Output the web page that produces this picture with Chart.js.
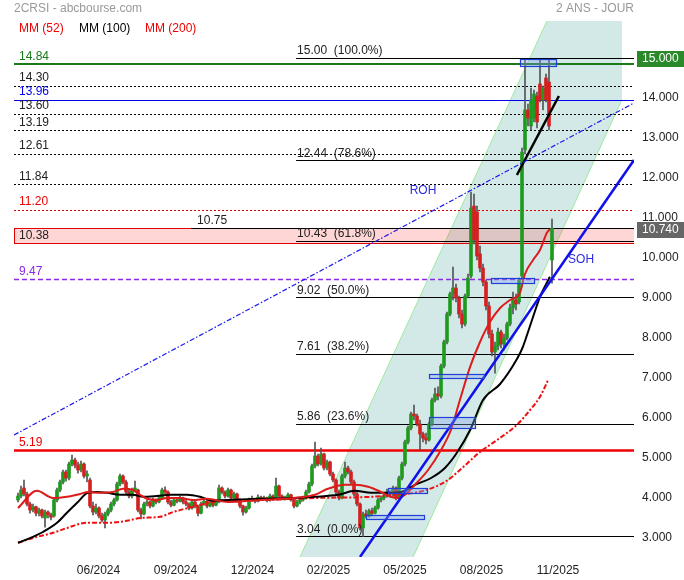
<!DOCTYPE html>
<html lang="fr">
<head>
  <meta charset="UTF-8" />
  <title>2CRSI - 2 ans</title>
  <script src="https://cdn.jsdelivr.net/npm/chart.js"></script>
  <style>
    html, body { margin: 0; padding: 0; background: #fff; }
    #wrap { width: 684px; height: 580px; }
  </style>
</head>
<body>
  <div id="wrap"><canvas id="chart" width="684" height="580"></canvas></div>
  <script>
    // daily candles (index = position on the time axis)
    const opens = [
      3.95,4.05,4.25,4.10,3.85,3.70,3.78,3.62,3.70,3.50,
      3.65,3.58,3.55,3.95,4.20,4.40,4.65,4.50,4.85,4.95,
      4.82,4.70,4.85,4.55,4.45,3.80,3.65,3.75,3.55,3.45,
      3.60,3.70,3.85,3.95,4.35,4.55,4.40,4.15,4.05,4.20,
      4.20,3.70,3.60,3.85,3.90,3.80,3.95,3.90,4.00,4.20,
      4.15,3.90,3.82,3.95,3.92,4.00,3.90,3.85,3.75,3.90,
      3.80,3.62,3.85,3.92,3.80,3.88,3.82,3.90,4.25,4.15,
      4.05,4.20,4.00,4.10,3.95,3.80,3.65,3.75,3.95,3.98,
      3.92,4.02,3.98,4.00,3.95,4.05,3.98,4.30,4.05,3.98,
      4.02,4.08,3.95,3.80,3.90,3.95,4.00,4.15,4.35,4.80,
      5.05,4.85,5.10,4.75,4.90,4.60,4.45,4.15,4.00,4.55,
      4.75,4.65,4.40,4.10,3.85,3.25,3.60,3.55,3.68,3.62,
      3.75,3.95,4.00,4.05,4.15,4.10,4.25,4.00,4.50,4.85,
      5.40,5.75,6.10,6.05,5.85,5.60,5.50,5.45,5.85,6.45,
      6.60,6.55,7.30,7.90,8.60,9.10,9.25,9.00,8.60,8.35,
      9.05,9.55,11.30,11.15,10.10,9.75,9.40,8.80,8.10,7.65,
      7.80,8.15,7.85,8.00,8.35,8.75,8.95,8.90,9.55,12.70,
      13.70,13.30,13.50,14.05,14.35,13.95,14.50,14.40,9.95
    ];
    const highs = [
      4.12,4.30,4.45,4.15,3.90,3.85,3.80,3.75,3.72,3.70,
      3.68,3.62,4.00,4.25,4.45,4.70,4.70,4.90,5.07,5.00,
      4.90,4.92,4.88,4.68,4.50,3.90,3.85,3.78,3.62,3.65,
      3.75,3.90,4.00,4.40,4.60,4.58,4.45,4.20,4.25,4.42,
      4.22,3.75,3.90,3.95,3.92,4.00,3.98,4.05,4.25,4.28,
      4.18,3.95,4.00,3.98,4.05,4.02,3.95,3.88,3.95,3.92,
      3.82,3.90,3.98,3.95,3.92,3.90,3.95,4.32,4.28,4.18,
      4.25,4.22,4.15,4.12,3.98,3.82,3.80,4.00,4.05,4.00,
      4.08,4.05,4.05,4.02,4.10,4.08,4.50,4.32,4.08,4.05,
      4.12,4.10,3.98,3.95,3.98,4.05,4.20,4.40,4.85,5.40,
      5.10,5.25,5.12,4.95,4.92,4.65,4.48,4.20,4.60,4.90,
      4.80,4.70,4.45,4.15,3.88,3.65,3.70,3.72,3.75,3.80,
      4.00,4.05,4.10,4.22,4.18,4.30,4.28,4.55,4.90,5.45,
      5.80,6.15,6.32,6.10,5.95,5.65,5.62,5.90,6.50,6.75,
      6.78,7.35,7.95,8.65,9.15,9.77,9.35,9.05,8.70,9.10,
      9.60,11.65,11.60,11.30,10.30,9.85,9.45,8.90,8.20,7.90,
      8.25,8.20,8.10,8.40,8.85,9.15,9.10,9.50,12.75,14.95,
      13.85,14.25,14.20,14.15,14.95,14.30,14.60,14.95,10.97
    ];
    const lows = [
      3.90,4.00,4.05,3.80,3.62,3.65,3.55,3.55,3.50,3.27,
      3.50,3.45,3.52,3.90,4.15,4.35,4.42,4.45,4.80,4.75,
      4.62,4.65,4.50,4.40,3.75,3.58,3.60,3.50,3.40,3.25,
      3.55,3.65,3.80,3.92,4.30,4.35,4.10,4.00,4.00,4.15,
      3.65,3.48,3.58,3.80,3.75,3.78,3.85,3.88,3.98,4.10,
      3.85,3.78,3.80,3.88,3.90,3.85,3.80,3.70,3.72,3.75,
      3.55,3.60,3.82,3.75,3.78,3.78,3.80,3.88,4.10,4.00,
      4.02,3.95,3.98,3.90,3.75,3.57,3.62,3.72,3.92,3.88,
      3.90,3.95,3.95,3.90,3.92,3.95,3.95,4.00,3.95,3.95,
      4.00,3.92,3.75,3.78,3.85,3.92,3.98,4.12,4.30,4.75,
      4.80,4.82,4.70,4.70,4.55,4.40,4.10,3.95,3.98,4.50,
      4.60,4.35,4.05,3.80,3.20,3.04,3.50,3.52,3.55,3.60,
      3.72,3.90,3.95,4.02,4.02,4.05,3.95,3.98,4.45,4.80,
      5.35,5.70,5.95,5.80,5.20,5.40,5.35,5.42,5.80,6.40,
      6.45,6.50,7.25,7.85,8.55,8.95,8.90,8.50,8.25,8.30,
      9.00,9.50,10.35,9.95,9.65,9.30,8.70,8.00,7.55,7.12,
      7.70,7.75,7.70,7.95,8.30,8.60,8.70,8.85,9.50,12.60,
      13.30,13.20,13.40,13.25,13.90,13.70,13.90,13.20,9.37
    ];
    const closes = [
      4.05,4.20,4.10,3.85,3.70,3.78,3.62,3.70,3.55,3.65,
      3.58,3.52,3.95,4.20,4.40,4.65,4.50,4.85,4.95,4.82,
      4.70,4.85,4.55,4.60,3.80,3.65,3.75,3.55,3.45,3.60,
      3.70,3.85,3.95,4.35,4.55,4.40,4.15,4.05,4.20,4.25,
      3.70,3.60,3.85,3.90,3.80,3.95,3.90,4.00,4.20,4.15,
      3.90,3.82,3.95,3.92,4.00,3.90,3.85,3.75,3.90,3.80,
      3.62,3.85,3.92,3.80,3.88,3.82,3.90,4.25,4.15,4.05,
      4.20,4.00,4.10,3.95,3.80,3.65,3.75,3.95,3.98,3.92,
      4.02,3.98,4.00,3.95,4.05,3.98,4.30,4.05,3.98,4.02,
      4.08,3.95,3.80,3.90,3.95,4.00,4.15,4.35,4.80,5.05,
      4.85,5.10,4.75,4.90,4.60,4.45,4.15,4.00,4.55,4.75,
      4.65,4.40,4.10,3.85,3.25,3.60,3.55,3.68,3.62,3.75,
      3.95,4.00,4.05,4.15,4.10,4.25,4.00,4.50,4.85,5.40,
      5.75,6.10,6.05,5.85,5.60,5.50,5.45,5.85,6.45,6.60,
      6.55,7.30,7.90,8.60,9.10,9.25,9.00,8.60,8.35,9.05,
      9.50,11.25,10.45,10.05,9.75,9.40,8.80,8.10,7.65,7.80,
      8.15,7.85,8.00,8.35,8.75,8.95,8.85,9.45,12.65,13.70,
      13.50,13.95,14.10,13.40,13.95,14.25,13.95,13.30,10.74
    ];

    // moving averages [index, value]
    const mm52 = [[0,3.75],[6.3,4.18],[11.7,4.0],[16.3,4.03],[20.7,4.1],[23.3,4.15],[27.3,4.13],[31.7,4.15],[35,4.23],[38.3,4.2],[40.7,4.08],[43,3.98],[46.3,3.95],[49.7,4.0],[54,4.0],[58.3,3.95],[63,3.98],[70,3.9],[81,3.95],[92,4.0],[99,4.08],[103.3,4.23],[109,4.33],[112.3,4.33],[116.7,4.28],[121,4.15],[124.3,4.03],[126.7,4.0],[129,4.08],[132.3,4.33],[136.7,4.7],[141,5.2],[144.3,5.7],[147.3,6.45],[150.7,7.28],[154,7.9],[157.3,8.4],[160.7,8.75],[164,8.95],[167.3,9.13],[169,9.6],[171.7,9.95],[174,10.2],[176.3,10.63],[177.3,10.72]];
    const mm100 = [[0,2.88],[5,3.03],[8.3,3.15],[13,3.38],[16.3,3.63],[19.7,3.88],[23.3,4.13],[26.3,4.15],[29.7,4.13],[34,4.08],[38.3,4.08],[41.7,4.03],[46.3,4.05],[50.7,4.08],[56.3,4.08],[60.7,4.03],[65,3.93],[70,3.95],[81,3.98],[92.3,4.0],[99,4.03],[106.7,4.08],[112.3,4.18],[117.7,4.13],[123.3,4.13],[127.7,4.15],[132.3,4.33],[137.7,4.5],[142.3,4.75],[146.3,5.13],[150.7,5.7],[155,6.45],[160.7,6.85],[166.5,7.5],[168.3,7.78],[169.7,8.08],[171.7,8.53],[174,9.03],[177.3,9.53]];
    const mm200 = [[0,2.88],[5,3.0],[11.7,3.13],[16.3,3.25],[23,3.38],[29.7,3.38],[36.3,3.43],[40.7,3.5],[47.3,3.53],[51.7,3.65],[58.3,3.78],[65,3.9],[70,3.95],[81,3.95],[92.3,3.98],[99,4.0],[117.7,4.03],[125.7,4.08],[132.3,4.13],[139,4.28],[143.3,4.45],[147.3,4.7],[154,5.15],[159.7,5.45],[166.3,5.83],[170.7,6.2],[174,6.53],[176.7,6.95]];

    // horizontal levels
    const levelValues = [14.84, 14.30, 13.96, 13.60, 13.19, 12.61, 11.84, 11.20, 9.47, 5.19];
    const zoneLow = 10.38, zoneHigh = 10.75;
    const fibValues = [15.00, 12.44, 10.43, 9.02, 7.61, 5.86, 3.04];
    const fibPct = ['100.0%', '78.6%', '61.8%', '50.0%', '38.2%', '23.6%', '0.0%'];
    const fibStart = 92.7;
    const zoneLineStart = 57.7;

    // drawn objects [index, value]
    const channelLeft = [[94, 2.525], [176.3, 15.925]];
    const channelRight = [[131.7, 2.525], [213.3, 15.925]];
    const channelEnd = 201.3;
    const sohLine = [[114, 2.525], [205.33, 12.45]];
    const rohLine = [[-1.33, 5.575], [205.33, 13.875]];
    const shortLine = [[166.3, 12.075], [180.3, 14.05]];
    const boxes = [[167.3, 179.3, 14.80, 14.975], [157.7, 172, 9.375, 9.5], [137, 155.3, 7.0, 7.1],
                   [137, 152.3, 5.75, 6.025], [123.3, 136.3, 4.125, 4.25], [116, 135.3, 3.475, 3.575]];

    const yTicks = [3, 4, 5, 6, 7, 8, 9, 10, 11, 12, 13, 14];
    const dateTicks = [26.83, 52.5, 78.17, 103.5, 129, 154.5, 180];
    const dateLabels = ['06/2024', '09/2024', '12/2024', '02/2025', '05/2025', '08/2025', '11/2025'];
    const lastPrice = 10.74;

    const FONT = '"Liberation Sans", Arial, sans-serif';
    Chart.defaults.font.family = FONT;
    Chart.defaults.font.size = 12;

    const levelStyles = [
      { color: '#1a7a1a', width: 2, dash: [], text: '#1a7a1a' },
      { color: '#000', width: 1, dash: [2, 2], text: '#222' },
      { color: '#0000ee', width: 1, dash: [], text: '#0000ee' },
      { color: '#000', width: 1, dash: [2, 2], text: '#222' },
      { color: '#000', width: 1, dash: [2, 2], text: '#222' },
      { color: '#000', width: 1, dash: [2, 2], text: '#222' },
      { color: '#000', width: 1, dash: [2, 2], text: '#222' },
      { color: '#dd0000', width: 1, dash: [2, 2], text: '#ee0000' },
      { color: '#8a2be2', width: 1.5, dash: [5, 3], text: '#8a2be2' },
      { color: '#ee0000', width: 2.5, dash: [], text: '#ee0000' }
    ];

    const pts = arr => arr.map(p => ({ x: p[0], y: p[1] }));

    const overlay = {
      id: 'overlay',
      beforeDatasetsDraw(chart) {
        const { ctx, chartArea: a, scales: { x, y } } = chart;
        const px = v => x.getPixelForValue(v), py = v => y.getPixelForValue(v);
        ctx.save();
        ctx.beginPath();
        ctx.rect(a.left, a.top, a.right - a.left, a.bottom - a.top);
        ctx.clip();

        // channel
        ctx.save();
        ctx.beginPath();
        ctx.rect(a.left, a.top, px(channelEnd) - a.left, a.bottom - a.top);
        ctx.clip();
        ctx.beginPath();
        ctx.moveTo(px(channelLeft[0][0]), py(channelLeft[0][1]));
        ctx.lineTo(px(channelLeft[1][0]), py(channelLeft[1][1]));
        ctx.lineTo(px(channelRight[1][0]), py(channelRight[1][1]));
        ctx.lineTo(px(channelRight[0][0]), py(channelRight[0][1]));
        ctx.closePath();
        ctx.fillStyle = 'rgba(145,200,195,0.4)';
        ctx.fill();
        ctx.strokeStyle = '#9ee89e';
        ctx.lineWidth = 1;
        [channelLeft, channelRight].forEach(l => {
          ctx.beginPath();
          ctx.moveTo(px(l[0][0]), py(l[0][1]));
          ctx.lineTo(px(l[1][0]), py(l[1][1]));
          ctx.stroke();
        });
        ctx.restore();

        // pink zone
        const zt = Math.round(py(zoneHigh)) + 0.5, zb = Math.round(py(zoneLow)) + 0.5;
        ctx.fillStyle = 'rgba(255,70,70,0.22)';
        ctx.fillRect(a.left, zt, a.right - a.left, zb - zt);
        ctx.strokeStyle = '#e00000';
        ctx.lineWidth = 1;
        ctx.strokeRect(a.left + 0.5, zt, a.right - a.left, zb - zt);
        ctx.strokeStyle = '#000';
        ctx.beginPath();
        ctx.moveTo(px(zoneLineStart), zt);
        ctx.lineTo(a.right, zt);
        ctx.stroke();

        // levels
        levelValues.forEach((v, i) => {
          const s = levelStyles[i];
          const yy = Math.round(py(v)) + (s.width % 2 ? 0.5 : 0);
          ctx.strokeStyle = s.color;
          ctx.lineWidth = s.width;
          ctx.setLineDash(s.dash);
          ctx.beginPath();
          ctx.moveTo(a.left, yy);
          ctx.lineTo(a.right, yy);
          ctx.stroke();
        });
        ctx.setLineDash([]);

        // fibonacci
        ctx.strokeStyle = '#000';
        ctx.lineWidth = 1;
        fibValues.forEach(v => {
          const yy = Math.round(py(v)) + 0.5;
          ctx.beginPath();
          ctx.moveTo(px(fibStart), yy);
          ctx.lineTo(a.right, yy);
          ctx.stroke();
        });
        ctx.restore();
      },
      afterDatasetsDraw(chart) {
        const { ctx, chartArea: a, scales: { x, y } } = chart;
        const px = v => x.getPixelForValue(v), py = v => y.getPixelForValue(v);
        ctx.save();
        // boxes
        boxes.forEach(b => {
          const x1 = Math.round(px(b[0])) + 0.5, x2 = Math.round(px(b[1])) + 0.5;
          const y1 = Math.round(py(b[3])) + 0.5, y2 = Math.round(py(b[2])) + 0.5;
          ctx.fillStyle = 'rgba(130,160,240,0.35)';
          ctx.fillRect(x1, y1, x2 - x1, y2 - y1);
          ctx.strokeStyle = '#1f3fd8';
          ctx.lineWidth = 1.2;
          ctx.strokeRect(x1, y1, x2 - x1, y2 - y1);
        });

        ctx.font = '12px ' + FONT;
        ctx.textBaseline = 'bottom';
        ctx.textAlign = 'left';
        levelValues.forEach((v, i) => {
          ctx.fillStyle = levelStyles[i].text;
          ctx.fillText(v.toFixed(2), a.left + 5, py(v) - 2);
        });
        ctx.fillStyle = '#222';
        ctx.fillText(zoneLow.toFixed(2), a.left + 5, py(zoneLow) - 1);
        ctx.fillText(zoneHigh.toFixed(2), px(zoneLineStart) + 6, py(zoneHigh) - 1);
        fibValues.forEach((v, i) => {
          ctx.fillText(v.toFixed(2) + '  (' + fibPct[i] + ')', px(fibStart) + 1, py(v) - 1);
        });

        ctx.fillStyle = '#2a2ae0';
        ctx.textAlign = 'center';
        ctx.textBaseline = 'middle';
        ctx.fillText('ROH', px(135), py(11.675));
        ctx.fillText('SOH', px(187.7), py(9.95));

        // right side price boxes
        ctx.textAlign = 'left';
        ctx.fillStyle = '#2a8a2a';
        ctx.fillRect(a.right + 3, Math.round(py(15)) - 7, 47, 16);
        ctx.fillStyle = '#fff';
        ctx.fillText('15.000', a.right + 8, Math.round(py(15)) + 1);
        ctx.fillStyle = '#666';
        ctx.fillRect(a.right + 3, Math.round(py(lastPrice)) - 6, 47, 16);
        ctx.fillStyle = '#fff';
        ctx.fillText(lastPrice.toFixed(3), a.right + 8, Math.round(py(lastPrice)) + 2);

        // header
        ctx.fillStyle = '#999';
        ctx.fillText('2CRSI - abcbourse.com', 14, 9);
        ctx.textAlign = 'right';
        ctx.fillText('2 ANS - JOUR', a.right, 9);
        ctx.textAlign = 'left';
        ctx.fillStyle = '#ee0000';
        ctx.fillText('MM (52)', 19, 29);
        ctx.fillStyle = '#000';
        ctx.fillText('MM (100)', 79, 29);
        ctx.fillStyle = '#ee0000';
        ctx.fillText('MM (200)', 145, 29);
        ctx.restore();
      }
    };

    const bodyColors = opens.map((o, i) => closes[i] >= o ? '#1f9a1f' : '#d42020');

    new Chart(document.getElementById('chart'), {
      type: 'bar',
      data: {
        datasets: [
          { type: 'line', data: pts(sohLine), borderColor: '#1010ee', borderWidth: 2.5, pointRadius: 0, order: 0 },
          { type: 'line', data: pts(rohLine), borderColor: '#1a1aee', borderWidth: 1.2, borderDash: [5, 2, 1.5, 2], pointRadius: 0, order: 0 },
          { type: 'line', data: pts(shortLine), borderColor: '#000', borderWidth: 2.5, pointRadius: 0, order: 0 },
          { type: 'line', data: pts(mm52), borderColor: '#dd1c1c', borderWidth: 2, pointRadius: 0, cubicInterpolationMode: 'monotone', order: 1 },
          { type: 'line', data: pts(mm100), borderColor: '#000', borderWidth: 2, pointRadius: 0, cubicInterpolationMode: 'monotone', order: 1 },
          { type: 'line', data: pts(mm200), borderColor: '#ee1010', borderWidth: 2, borderDash: [5, 2, 2, 2], pointRadius: 0, cubicInterpolationMode: 'monotone', order: 1 },
          { data: opens.map((o, i) => ({ x: i, y: [o, closes[i]] })), backgroundColor: bodyColors, barThickness: 3, minBarLength: 1, grouped: false, order: 2 },
          { data: highs.map((h, i) => ({ x: i, y: [lows[i], h] })), backgroundColor: '#555', barThickness: 1, grouped: false, order: 3 }
        ]
      },
      options: {
        responsive: false,
        animation: false,
        layout: { padding: { left: 14, top: 20, right: 0, bottom: 0 } },
        plugins: { legend: { display: false }, tooltip: { enabled: false } },
        scales: {
          x: {
            type: 'linear',
            offset: false,
            min: -4 / 3,
            max: 616 / 3,
            grid: { display: false, drawTicks: false, offset: false },
            border: { display: false },
            ticks: { color: '#222', padding: 6, maxRotation: 0, autoSkip: false,
                     callback: (v, i) => dateLabels[i] },
            afterBuildTicks: s => { s.ticks = dateTicks.map(v => ({ value: v })); },
            afterFit: s => { s.height = 23; }
          },
          y: {
            type: 'linear',
            position: 'right',
            min: 2.525,
            max: 15.95,
            grid: { display: false, drawTicks: false },
            border: { display: false },
            ticks: { color: '#222', padding: 8, callback: v => v.toFixed(3) },
            afterBuildTicks: s => { s.ticks = yTicks.map(v => ({ value: v })); },
            afterFit: s => { s.width = 50; }
          }
        }
      },
      plugins: [overlay]
    });
  </script>
</body>
</html>
